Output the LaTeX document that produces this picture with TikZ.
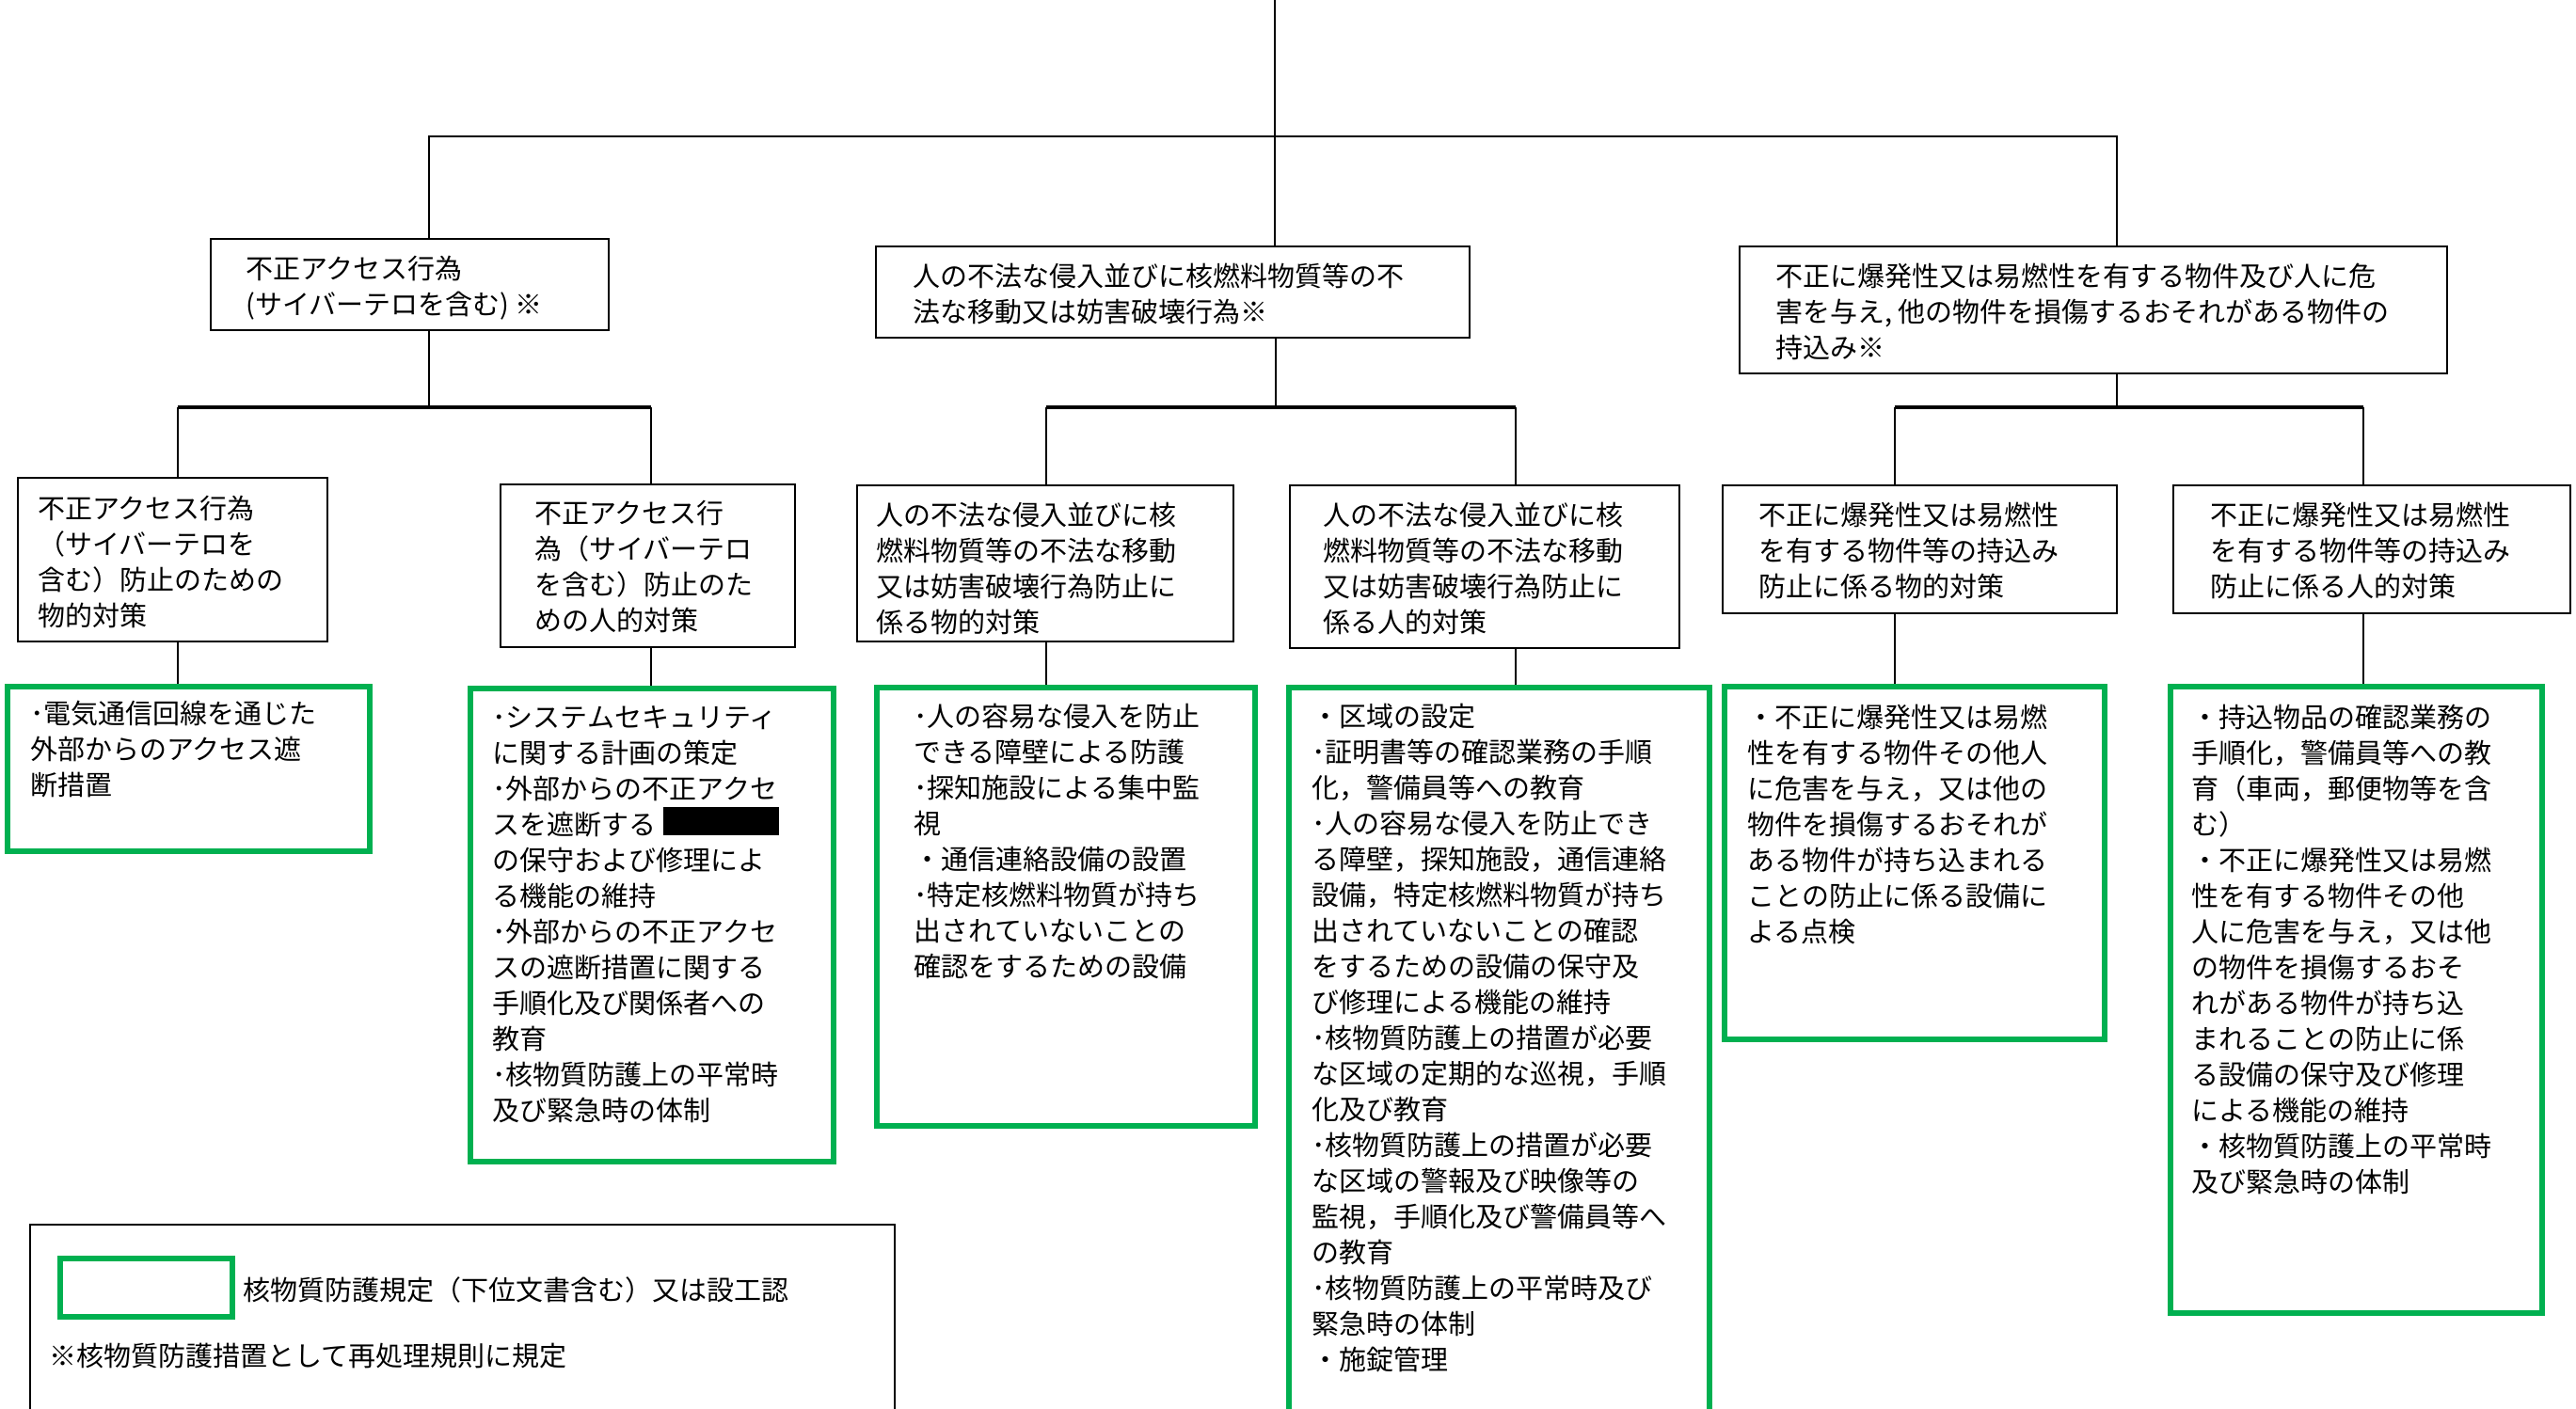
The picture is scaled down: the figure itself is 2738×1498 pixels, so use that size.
\documentclass[tikz,border=0pt]{standalone}
\usepackage{fontspec}
\newfontfamily\jp{Noto Sans CJK JP}
\usetikzlibrary{fit,calc}
\definecolor{grn}{HTML}{00B050}
\begin{document}
\begin{tikzpicture}[x=0.5pt,y=-0.5pt,
  box/.style={draw=black, line width=1.2pt, inner sep=0pt},
  gbox/.style={draw=grn, line width=2.6pt, inner sep=0pt},
  txt/.style={font=\jp\fontsize{14.5pt}{19pt}\selectfont, align=left, inner sep=0pt, anchor=north west, yshift=-2pt, execute at begin node={\rule{0pt}{14pt}}},
  conn/.style={line width=1pt},
  bar/.style={line width=1.8pt}]
\useasboundingbox (0,0) rectangle (2738,1498);
\clip (0,0) rectangle (2738,1498);
\fill[white] (0,0) rectangle (2738,1498);

% level 1 boxes
\node[box, fit={(224,254) (647,351)}] (a1) {};
\node[box, fit={(931,262) (1562,359)}] (a2) {};
\node[box, fit={(1849,262) (2601,397)}] (a3) {};
% level 2 boxes
\node[box, fit={(19,508) (348,682)}] (b1) {};
\node[box, fit={(532,515) (845,688)}] (b2) {};
\node[box, fit={(911,516) (1311,682)}] (b3) {};
\node[box, fit={(1371,516) (1785,689)}] (b4) {};
\node[box, fit={(1831,516) (2250,652)}] (b5) {};
\node[box, fit={(2310,516) (2732,652)}] (b6) {};
% green boxes
\node[gbox, fit={(8,730) (393,905)}] (g1) {};
\node[gbox, fit={(500,732) (886,1235)}] (g2) {};
\node[gbox, fit={(932,731) (1334,1197)}] (g3) {};
\node[gbox, fit={(1370,731) (1817,1512)}] (g4) {};
\node[gbox, fit={(1833,730) (2237,1105)}] (g5) {};
\node[gbox, fit={(2307,730) (2702,1396)}] (g6) {};
% legend
\node[box, fit={(32,1302) (951,1512)}] (leg) {};
\node[gbox, fit={(64,1338) (247,1400)}] (legg) {};
\node[fill=black, inner sep=0pt, fit={(705,858) (828,888)}] (redact) {};

% connectors level 1
\coordinate (top) at (1355,0);
\coordinate (j1) at (456,145);
\coordinate (j3) at (2250,145);
\draw[conn] (top) -- (top |- a2.north);
\draw[conn] (j1 |- a1.north) -- (j1) -- (j3) -- (j3 |- a3.north);
% connectors level 2 / 3, group 1
\coordinate (k1) at (456,433);
\coordinate (l1) at (189,433);
\coordinate (r1) at (692,433);
\draw[conn] (k1 |- a1.south) -- (k1);
\draw[bar] (l1) -- (r1);
\draw[conn] (l1) -- (l1 |- b1.north);
\draw[conn] (r1) -- (r1 |- b2.north);
\draw[conn] (l1 |- b1.south) -- (l1 |- g1.north);
\draw[conn] (r1 |- b2.south) -- (r1 |- g2.north);
% group 2
\coordinate (k2) at (1356,433);
\coordinate (l2) at (1112,433);
\coordinate (r2) at (1611,433);
\draw[conn] (k2 |- a2.south) -- (k2);
\draw[bar] (l2) -- (r2);
\draw[conn] (l2) -- (l2 |- b3.north);
\draw[conn] (r2) -- (r2 |- b4.north);
\draw[conn] (l2 |- b3.south) -- (l2 |- g3.north);
\draw[conn] (r2 |- b4.south) -- (r2 |- g4.north);
% group 3
\coordinate (k3) at (2250,433);
\coordinate (l3) at (2014,433);
\coordinate (r3) at (2512,433);
\draw[conn] (k3 |- a3.south) -- (k3);
\draw[bar] (l3) -- (r3);
\draw[conn] (l3) -- (l3 |- b5.north);
\draw[conn] (r3) -- (r3 |- b6.north);
\draw[conn] (l3 |- b5.south) -- (l3 |- g5.north);
\draw[conn] (r3 |- b6.south) -- (r3 |- g6.north);

% texts
\node[txt] (ta1) at (261,268) {不正アクセス行為\\(サイバーテロを含む) ※};
\node[txt] (ta2) at (970,276) {人の不法な侵入並びに核燃料物質等の不\\法な移動又は妨害破壊行為※};
\node[txt] (ta3) at (1887,276) {不正に爆発性又は易燃性を有する物件及び人に危\\害を与え,\ 他の物件を損傷するおそれがある物件の\\持込み※};

\node[txt] (tb1) at (40,523) {不正アクセス行為\\（サイバーテロを\\含む）防止のための\\物的対策};
\node[txt] (tb2) at (568,528) {不正アクセス行\\為（サイバーテロ\\を含む）防止のた\\めの人的対策};
\node[txt] (tb3) at (931,530) {人の不法な侵入並びに核\\燃料物質等の不法な移動\\又は妨害破壊行為防止に\\係る物的対策};
\node[txt] (tb4) at (1406,530) {人の不法な侵入並びに核\\燃料物質等の不法な移動\\又は妨害破壊行為防止に\\係る人的対策};
\node[txt] (tb5) at (1869,530) {不正に爆発性又は易燃性\\を有する物件等の持込み\\防止に係る物的対策};
\node[txt] (tb6) at (2349,530) {不正に爆発性又は易燃性\\を有する物件等の持込み\\防止に係る人的対策};

\node[txt] (tg1) at (32,741) {･電気通信回線を通じた\\外部からのアクセス遮\\断措置};
\node[txt] (tg2) at (523,746) {･システムセキュリティ\\に関する計画の策定\\･外部からの不正アクセ\\スを遮断する\\の保守および修理によ\\る機能の維持\\･外部からの不正アクセ\\スの遮断措置に関する\\手順化及び関係者への\\教育\\･核物質防護上の平常時\\及び緊急時の体制};
\node[txt] (tg3) at (971,744) {･人の容易な侵入を防止\\できる障壁による防護\\･探知施設による集中監\\視\\・通信連絡設備の設置\\･特定核燃料物質が持ち\\出されていないことの\\確認をするための設備};
\node[txt] (tg4) at (1394,744) {・区域の設定\\･証明書等の確認業務の手順\\化，警備員等への教育\\･人の容易な侵入を防止でき\\る障壁，探知施設，通信連絡\\設備，特定核燃料物質が持ち\\出されていないことの確認\\をするための設備の保守及\\び修理による機能の維持\\･核物質防護上の措置が必要\\な区域の定期的な巡視，手順\\化及び教育\\･核物質防護上の措置が必要\\な区域の警報及び映像等の\\監視，手順化及び警備員等へ\\の教育\\･核物質防護上の平常時及び\\緊急時の体制\\・施錠管理};
\node[txt] (tg5) at (1857,745) {・不正に爆発性又は易燃\\性を有する物件その他人\\に危害を与え，又は他の\\物件を損傷するおそれが\\ある物件が持ち込まれる\\ことの防止に係る設備に\\よる点検};
\node[txt] (tg6) at (2329,745) {・持込物品の確認業務の\\手順化，警備員等への教\\育（車両，郵便物等を含\\む）\\・不正に爆発性又は易燃\\性を有する物件その他\\人に危害を与え，又は他\\の物件を損傷するおそ\\れがある物件が持ち込\\まれることの防止に係\\る設備の保守及び修理\\による機能の維持\\・核物質防護上の平常時\\及び緊急時の体制};

\node[txt] (tl1) at (258,1350) {核物質防護規定（下位文書含む）又は設工認};
\node[txt] (tl2) at (52,1420) {※核物質防護措置として再処理規則に規定};
\end{tikzpicture}
\end{document}
